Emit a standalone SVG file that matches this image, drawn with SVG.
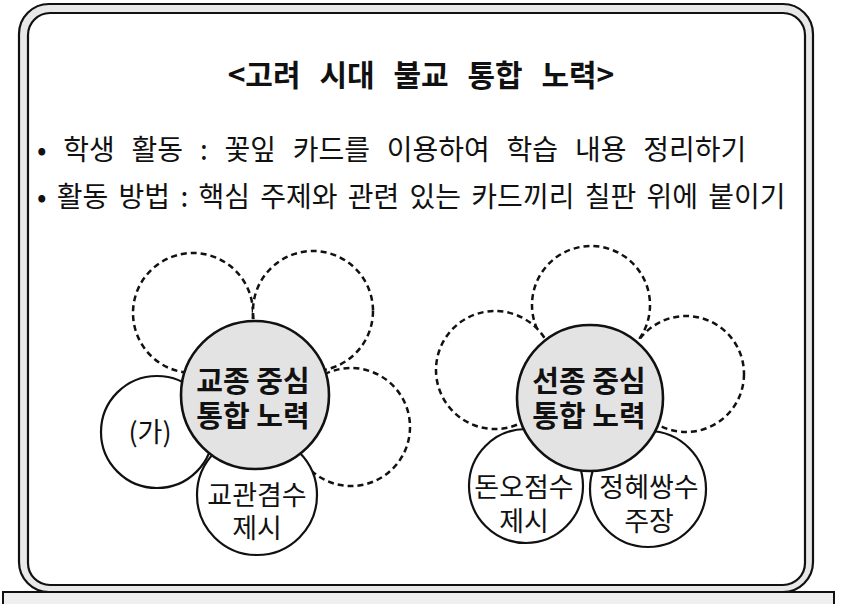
<svg xmlns="http://www.w3.org/2000/svg" width="842" height="604" viewBox="0 0 842 604">
  <style>
    .t { font-family: "Noto Sans CJK KR", "Noto Sans", sans-serif; fill: #111; }
    .title { font-size: 30px; font-weight: bold; word-spacing: 12px; }
    .line { font-size: 28px; }
    .center { font-size: 29px; font-weight: bold; text-anchor: middle; }
    .petal { font-size: 27px; text-anchor: middle; }
    .dash { fill: #fff; stroke: #111; stroke-width: 2.5; stroke-dasharray: 6 4; }
    .solid { fill: #fff; stroke: #111; stroke-width: 2.2; }
    .core { fill: #e3e3e3; stroke: #111; stroke-width: 2.6; }
  </style>
  <rect width="842" height="604" fill="#fff"/>
  <g id="frame">
    <rect x="19" y="4" width="794" height="588" rx="30" ry="30" fill="#e8e8e8" stroke="#111" stroke-width="2.2"/>
    <rect x="28" y="13" width="777" height="572" rx="22" ry="22" fill="#fff" stroke="#111" stroke-width="2.2"/>
    <rect x="3" y="592" width="831" height="20" fill="#efefef" stroke="#111" stroke-width="2"/>
  </g>
  <g id="title">
    <text class="t title" x="421" y="86" text-anchor="middle">&lt;고려 시대 불교 통합 노력&gt;</text>
  </g>
  <g id="bullets">
    <text class="t line" x="37" y="160" style="word-spacing:10.5px">• 학생 활동 : 꽃잎 카드를 이용하여 학습 내용 정리하기</text>
    <text class="t line" x="37" y="207" style="word-spacing:4px">• 활동 방법 : 핵심 주제와 관련 있는 카드끼리 칠판 위에 붙이기</text>
  </g>
  <g id="flower-left">
    <circle class="dash" cx="193" cy="313" r="60"/>
    <circle class="dash" cx="313" cy="311" r="60"/>
    <circle class="dash" cx="351" cy="427" r="59"/>
    <g id="petal-ga">
      <circle class="solid" cx="157" cy="432" r="56"/>
      <text class="t petal" x="150" y="442">(가)</text>
    </g>
    <g id="petal-gyogwan">
      <circle class="solid" cx="257" cy="495" r="60"/>
      <text class="t petal" x="257" y="505">교관겸수</text>
      <text class="t petal" x="257" y="538">제시</text>
    </g>
    <g id="core-gyojong">
      <circle class="core" cx="255" cy="395" r="74"/>
      <text class="t center" x="253" y="392">교종 중심</text>
      <text class="t center" x="253" y="427">통합 노력</text>
    </g>
  </g>
  <g id="flower-right">
    <circle class="dash" cx="591" cy="305" r="59"/>
    <circle class="dash" cx="495" cy="370" r="59"/>
    <circle class="dash" cx="686" cy="374" r="58"/>
    <g id="petal-donoh">
      <circle class="solid" cx="526" cy="486" r="57"/>
      <text class="t petal" x="524" y="497">돈오점수</text>
      <text class="t petal" x="524" y="531">제시</text>
    </g>
    <g id="petal-jeonghye">
      <circle class="solid" cx="648" cy="489" r="58"/>
      <text class="t petal" x="649" y="497">정혜쌍수</text>
      <text class="t petal" x="649" y="531">주장</text>
    </g>
    <g id="core-seonjong">
      <circle class="core" cx="590" cy="398" r="73"/>
      <text class="t center" x="589" y="392">선종 중심</text>
      <text class="t center" x="589" y="427">통합 노력</text>
    </g>
  </g>
</svg>
